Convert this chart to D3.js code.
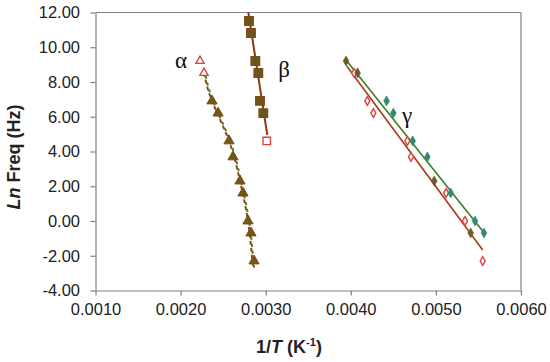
<!DOCTYPE html>
<html>
<head>
<meta charset="utf-8">
<script src="https://cdn.jsdelivr.net/npm/d3@7"></script>
<style>
	body { margin: 0; background: #fff; }
	svg { display: block; }
	.axis text { font-family: "Liberation Sans", Arial, sans-serif; font-size: 16.5px; fill: #222; }
	.axis line, .axis path { stroke: #808080; stroke-width: 1.2; }
</style>
</head>
<body>
<div id="chart"><svg></svg></div>
<script>
// ln(f) levels used in the measurement
var yTicks = [-4, -2, 0, 2, 4, 6, 8, 10, 12];
var xTicks = [0.001, 0.002, 0.003, 0.004, 0.005, 0.006];

// alpha relaxation (triangles)
var alphaOpen = [[0.002228, 9.21], [0.002275, 8.52]];
var alphaFilled = [[0.002369, 6.91], [0.00244, 6.21], [0.002569, 4.61], [0.002616, 3.69], [0.002698, 2.30],
	[0.002733, 1.61], [0.002792, 0.0], [0.002827, -0.69], [0.002863, -2.30]];
var alphaFit = [[0.002275, 8.52], [0.002369, 6.91], [0.002569, 4.61], [0.002698, 2.30], [0.002792, 0.0], [0.002851, -2.7]];

// beta relaxation (squares)
var betaFilled = [[0.002804, 11.51], [0.002827, 10.82], [0.002878, 9.21], [0.002913, 8.52], [0.002933, 6.91], [0.002972, 6.21]];
var betaOpen = [[0.003012, 4.61]];
var betaFit = [[0.002796, 12.0], [0.003019, 4.95]];

// gamma relaxation (diamonds)
var gammaTeal = [[0.00442, 6.91], [0.00450, 6.21], [0.004727, 4.61], [0.00490, 3.69], [0.005174, 1.61], [0.00546, 0.0], [0.005565, -0.69]];
var gammaOlive = [[0.003944, 9.21], [0.00408, 8.52], [0.00498, 2.30], [0.005409, -0.69]];
var gammaOpen = [[0.00404, 8.52], [0.004194, 6.91], [0.004265, 6.21], [0.004664, 4.61], [0.004707, 3.69], [0.00512, 1.61], [0.005342, 0.0], [0.00555, -2.30]];
var gammaFitGreen = [[0.003944, 9.27], [0.005577, -0.75]];
var gammaFitRed = [[0.003952, 8.92], [0.00555, -1.67]];

var width = 550, height = 362;
var svg = d3.select("#chart").select("svg")
	.attr("width", width)
	.attr("height", height);

var x = d3.scaleLinear().domain([0.001, 0.006]).range([95.5, 521]);
var y = d3.scaleLinear().domain([-4, 12]).range([290.5, 12.5]);

// frame on top and right
svg.append("line")
	.attr("x1", x(0.001)).attr("x2", x(0.006))
	.attr("y1", y(12)).attr("y2", y(12))
	.style("stroke", "#808080").style("stroke-width", 1.2);
svg.append("line")
	.attr("x1", x(0.006)).attr("x2", x(0.006))
	.attr("y1", y(12)).attr("y2", y(-4))
	.style("stroke", "#808080").style("stroke-width", 1.2);

svg.append("g")
	.attr("class", "axis")
	.attr("transform", "translate(" + x(0.001) + ",0)")
	.call(d3.axisLeft(y).tickValues(yTicks).tickSizeInner(5).tickSizeOuter(0).tickPadding(10.5)
		.tickFormat(function(d) { return d.toFixed(2); }));

svg.append("g")
	.attr("class", "axis")
	.attr("transform", "translate(0," + y(-4) + ")")
	.call(d3.axisBottom(x).tickValues(xTicks).tickSizeInner(5).tickSizeOuter(0).tickPadding(7.5)
		.tickFormat(function(d) { return d.toFixed(4); }));

var line = d3.line()
	.x(function(d) { return x(d[0]); })
	.y(function(d) { return y(d[1]); });
var curve = d3.line()
	.curve(d3.curveNatural)
	.x(function(d) { return x(d[0]); })
	.y(function(d) { return y(d[1]); });

// fit lines
svg.append("path").datum(alphaFit).attr("d", curve)
	.style("fill", "none").style("stroke", "#8b4a14").style("stroke-width", 2)
	.style("stroke-dasharray", "4,3");
svg.append("path").datum(alphaFit).attr("d", curve)
	.style("fill", "none").style("stroke", "#4f7a1e").style("stroke-width", 2)
	.style("stroke-dasharray", "3,4").style("stroke-dashoffset", 4)
	.attr("transform", "translate(1,0)");
svg.append("path").datum(betaFit).attr("d", line)
	.style("fill", "none").style("stroke", "#8b3a12").style("stroke-width", 2);
svg.append("path").datum(gammaFitGreen).attr("d", line)
	.style("fill", "none").style("stroke", "#3f7d22").style("stroke-width", 1.6);
svg.append("path").datum(gammaFitRed).attr("d", line)
	.style("fill", "none").style("stroke", "#a43c16").style("stroke-width", 1.6);

function markers(data, type, size, fill, stroke, sw)
{
	svg.append("g").selectAll("path")
		.data(data)
		.enter()
		.append("path")
		.attr("transform", function(d) { return "translate(" + x(d[0]) + "," + y(d[1]) + ")"; })
		.attr("d", d3.symbol().type(type).size(size))
		.style("fill", fill)
		.style("stroke", stroke)
		.style("stroke-width", sw);
}

markers(alphaOpen, d3.symbolTriangle, 30, "#fff", "#e0403a", 1.3);
markers(alphaFilled, d3.symbolTriangle, 45, "#6b5a1a", "#8b4513", 1);
markers(betaOpen, d3.symbolSquare, 55, "#fff", "#e0403a", 1.4);
markers(betaFilled, d3.symbolSquare, 70, "#5e5b1e", "#8b4513", 1.5);
markers(gammaOpen, d3.symbolDiamond, 22, "#fff", "#e0403a", 1.4);
markers(gammaTeal, d3.symbolDiamond, 30, "#2f8a70", "#2f8a70", 0.5);
markers(gammaOlive, d3.symbolDiamond, 30, "#6b5a2a", "#6b5a2a", 0.5);

// greek labels
var greek = [["\u03b1", 181, 68], ["\u03b2", 284, 77], ["\u03b3", 407, 123]];
svg.selectAll(".greek")
	.data(greek)
	.enter()
	.append("text")
	.attr("class", "greek")
	.attr("x", function(d) { return d[1]; })
	.attr("y", function(d) { return d[2]; })
	.style("text-anchor", "middle")
	.style("font-family", "'Liberation Serif', 'DejaVu Serif', serif")
	.style("font-size", "23px")
	.style("fill", "#111")
	.text(function(d) { return d[0]; });

// axis titles
var xt = svg.append("text")
	.attr("x", 289)
	.attr("y", 353)
	.style("text-anchor", "middle")
	.style("font-family", "'Liberation Sans', Arial, sans-serif")
	.style("font-size", "18px")
	.style("font-weight", "bold")
	.style("fill", "#222");
xt.append("tspan").text("1/");
xt.append("tspan").style("font-style", "italic").text("T");
xt.append("tspan").text(" (K");
xt.append("tspan").attr("dy", -7).style("font-size", "11px").text("-1");
xt.append("tspan").attr("dy", 7).text(")");

var yt = svg.append("text")
	.attr("transform", "translate(20,157) rotate(-90)")
	.style("text-anchor", "middle")
	.style("font-family", "'Liberation Sans', Arial, sans-serif")
	.style("font-size", "18px")
	.style("font-weight", "bold")
	.style("fill", "#222");
yt.append("tspan").style("font-style", "italic").text("Ln");
yt.append("tspan").text(" Freq (Hz)");
</script>
</body>
</html>
